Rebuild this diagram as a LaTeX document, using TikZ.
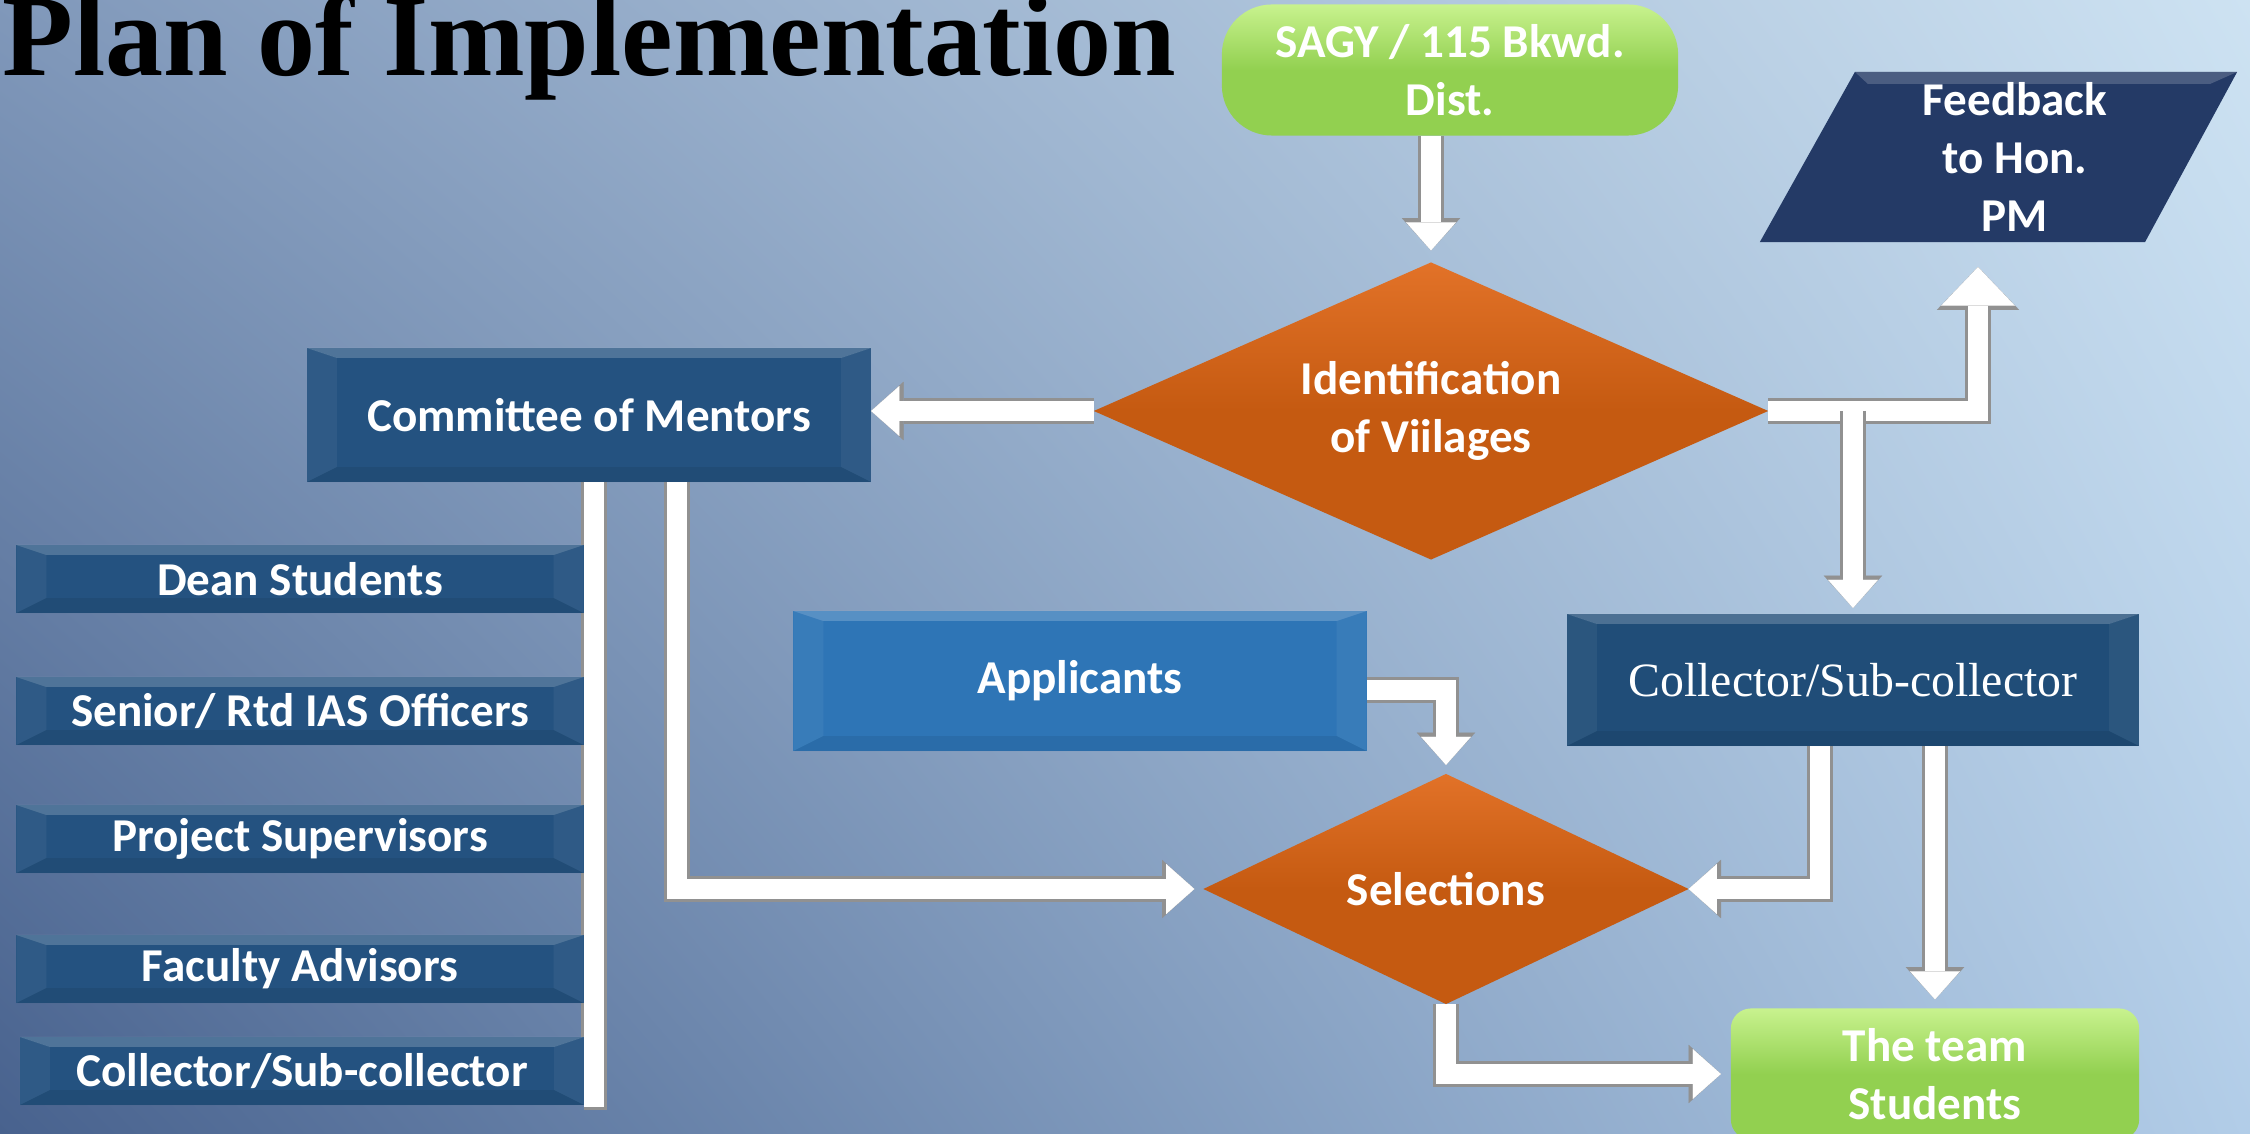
\documentclass[tikz,border=0pt]{standalone}
\usepackage{fontspec}
\setmainfont{Carlito}
\newfontfamily\titlefont{Liberation Serif}
\usetikzlibrary{shapes.geometric,arrows.meta,calc,shadings}
\definecolor{bgUL}{RGB}{128,152,186}
\definecolor{bgUR}{RGB}{205,226,242}
\definecolor{bgLL}{RGB}{72,98,142}
\definecolor{bgLR}{RGB}{178,205,232}
\definecolor{boxblue}{RGB}{36,82,128}
\definecolor{collblue}{RGB}{32,77,120}
\definecolor{appblue}{RGB}{46,117,182}
\definecolor{navyc}{RGB}{36,58,102}
\definecolor{orangeA}{RGB}{226,114,40}
\definecolor{orangeB}{RGB}{197,90,17}
\definecolor{greenA}{RGB}{200,242,142}
\definecolor{greenB}{RGB}{146,208,80}
\definecolor{pipegray}{RGB}{145,145,145}
\pgfdeclarelayer{bgl}
\pgfdeclarelayer{pipes}
\pgfsetlayers{bgl,pipes,main}
\tikzset{
  bevel/.style={path picture={
    \fill[white,opacity=.2] (path picture bounding box.north west) -- (path picture bounding box.north east)
      -- ([shift={(-0.3cm,-0.1cm)}]path picture bounding box.north east) -- ([shift={(0.3cm,-0.1cm)}]path picture bounding box.north west) -- cycle;
    \fill[black,opacity=.07] (path picture bounding box.south west) -- (path picture bounding box.south east)
      -- ([shift={(-0.3cm,0.15cm)}]path picture bounding box.south east) -- ([shift={(0.3cm,0.15cm)}]path picture bounding box.south west) -- cycle;
    \fill[white,opacity=.05] (path picture bounding box.north west) -- ([shift={(0.3cm,-0.1cm)}]path picture bounding box.north west)
      -- ([shift={(0.3cm,0.15cm)}]path picture bounding box.south west) -- (path picture bounding box.south west) -- cycle;
    \fill[white,opacity=.05] (path picture bounding box.north east) -- ([shift={(-0.3cm,-0.1cm)}]path picture bounding box.north east)
      -- ([shift={(-0.3cm,0.15cm)}]path picture bounding box.south east) -- (path picture bounding box.south east) -- cycle;
  }},
  feedshape/.style={path picture={
    \fill[navyc] (path picture bounding box.south west) -- ([xshift=0.95cm]path picture bounding box.north west)
      -- ([xshift=-0.33cm]path picture bounding box.north east) -- ([xshift=-1.25cm]path picture bounding box.south east) -- cycle;
    \fill[white,opacity=.18] ([xshift=0.95cm]path picture bounding box.north west) -- ([xshift=-0.33cm]path picture bounding box.north east)
      -- ([shift={(-0.6cm,-0.12cm)}]path picture bounding box.north east) -- ([shift={(1.08cm,-0.12cm)}]path picture bounding box.north west) -- cycle;
  }},
  lbl/.style={text=white, font=\fontsize{13.4pt}{16.5pt}\selectfont\bfseries, align=center, inner sep=0pt, outer sep=0pt},
  bluebox/.style={lbl, rectangle, fill=boxblue, bevel},
  collbox/.style={lbl, rectangle, fill=collblue, bevel, font=\titlefont\fontsize{13.6pt}{16.5pt}\selectfont},
  appbox/.style={lbl, rectangle, fill=appblue, bevel},
  greenbox/.style={lbl, rectangle, top color=greenA, bottom color=greenB, middle color=greenB},
  diam/.style={lbl, diamond, aspect=2.2, top color=orangeA, bottom color=orangeB, middle color=orangeB},
  feedbox/.style={lbl, rectangle, feedshape},
  pipe/.style={line width=5.7pt, white, line join=miter,
    -{Triangle[length=8pt,width=14.2pt,line width=0.01pt]},
    preaction={draw=pipegray, line width=7.4pt, -{Triangle[length=9.2pt,width=16.6pt,line width=0.01pt]}}},
  bighead/.style={-{Triangle[length=11pt,width=21pt,line width=0.01pt]},
    preaction={draw=pipegray, line width=7.4pt, -{Triangle[length=12.2pt,width=23.4pt,line width=0.01pt]}}},
  pipeplain/.style={line width=5.7pt, white, line join=miter, preaction={draw=pipegray, line width=7.4pt}},
  titlestyle/.style={anchor=base west, inner sep=0pt, font=\titlefont\bfseries\fontsize{33pt}{36pt}\selectfont, text=black},
}
\begin{document}
\begin{tikzpicture}[x=0.01cm,y=-0.01cm]
\useasboundingbox (0,0) rectangle (2250,1134);
\begin{pgfonlayer}{bgl}
\shade[upper left=bgUL, upper right=bgUR, lower left=bgLL, lower right=bgLR] (0,0) rectangle (2250,1134);
\end{pgfonlayer}

\node[titlestyle] (title) at (2,76) {Plan of Implementation};

\node[greenbox, rounded corners=0.5cm, minimum width=4.56cm, minimum height=1.31cm] (sagy) at (1450,70) {SAGY / 115 Bkwd.\\Dist.};
\node[feedbox, minimum width=5.10cm, minimum height=1.70cm] (feed) at (2015,157) {Feedback\\to Hon.\\PM};
\node[diam, minimum width=6.74cm, minimum height=2.97cm] (ident) at (1431,411) {Identification\\of Viilages};
\node[bluebox, minimum width=5.64cm, minimum height=1.34cm] (com) at (589,415) {Committee of Mentors};
\node[appbox, minimum width=5.73cm, minimum height=1.40cm] (app) at (1080,681) {Applicants};
\node[collbox, minimum width=5.72cm, minimum height=1.32cm] (coll) at (1853,680) {Collector/Sub-collector};
\node[diam, minimum width=4.85cm, minimum height=2.30cm] (sel) at (1446,889) {Selections};
\node[greenbox, rounded corners=0.2cm, minimum width=4.08cm, minimum height=1.31cm] (team) at (1935,1074) {The team\\Students};

\node[bluebox, minimum width=5.67cm, minimum height=0.68cm] (l1) at (300,579) {Dean Students};
\node[bluebox, minimum width=5.67cm, minimum height=0.68cm] (l2) at (300,711) {Senior/ Rtd IAS Officers};
\node[bluebox, minimum width=5.67cm, minimum height=0.68cm] (l3) at (300,839) {Project Supervisors};
\node[bluebox, minimum width=5.67cm, minimum height=0.68cm] (l4) at (300,969) {Faculty Advisors};
\node[bluebox, minimum width=5.64cm, minimum height=0.68cm] (l5) at (302,1071) {Collector/Sub-collector};

\begin{pgfonlayer}{pipes}
\draw[pipe, shorten >=0.12cm] (ident.north |- sagy.south) -- (ident.north);
\draw[pipe] (ident.west) -- (ident.west -| com.east);
\draw[pipe, bighead, shorten >=0.25cm] (ident.east) -| ($(feed.south)+(-37,0)$);
\draw[pipe, shorten >=0.06cm] (coll.north |- ident.east) -- (coll.north);
\draw[pipe, shorten >=0.09cm] ($(app.east)+(0,9)$) -| (sel.north);
\draw[pipe, shorten >=0.09cm] ($(com.south)+(88,0)$) |- (sel.west);
\draw[pipeplain] ($(com.south)+(5,0)$) |- ($(l5.south east)+(0,-8)$);
\draw[pipe] ($(coll.south)+(-33,0)$) |- (sel.east);
\draw[pipe, shorten >=0.09cm] (team.north |- coll.south) -- (team.north);
\draw[pipe, shorten >=0.1cm] (sel.south) |- (team.west);
\end{pgfonlayer}
\end{tikzpicture}
\end{document}
